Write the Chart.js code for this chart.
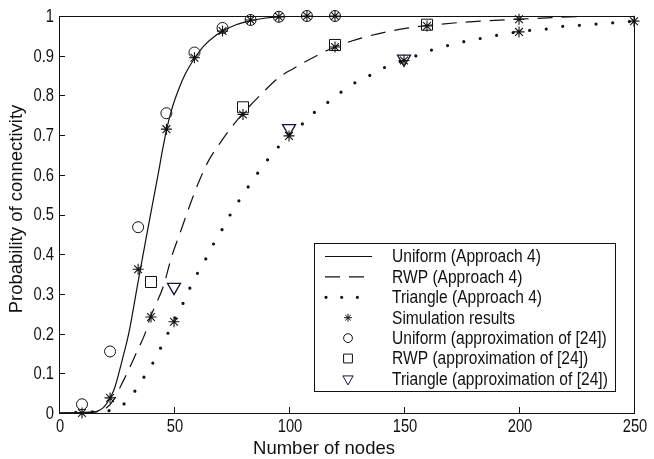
<!DOCTYPE html>
<html>
<head>
<meta charset="utf-8">
<script src="https://cdn.jsdelivr.net/npm/chart.js@4.4.1/dist/chart.umd.min.js"></script>
<style>
  html, body { margin: 0; padding: 0; background: #fff; }
  #wrap { width: 654px; height: 459px; }
</style>
</head>
<body>
<div id="wrap"><canvas id="c"></canvas></div>
<script>
// curvas analíticas (Approach 4)
const uniformX = [0, 15, 18, 20, 22.2, 24, 26, 28, 29.7, 30.9, 33, 35, 38, 41, 43.2, 44.6, 46.7, 49, 52, 55, 58.9, 63, 67, 71.1, 77, 83.3, 90, 95.6, 107.8, 120, 250];
const uniformY = [0, 0.002, 0.008, 0.018, 0.038, 0.06, 0.1, 0.145, 0.184, 0.217, 0.285, 0.35, 0.444, 0.537, 0.604, 0.65, 0.712, 0.765, 0.815, 0.855, 0.893, 0.925, 0.946, 0.962, 0.978, 0.988, 0.995, 0.998, 1, 1, 1];

const rwpX = [0, 15, 20, 24, 27, 30, 33.5, 37.4, 39.6, 41.7, 45.3, 49, 52.6, 57, 61, 65, 70, 75, 80, 87.4, 96, 102, 112, 120, 135, 152, 160, 180, 200, 230, 250];
const rwpY = [0, 0.002, 0.01, 0.035, 0.07, 0.105, 0.15, 0.2, 0.24, 0.268, 0.318, 0.394, 0.453, 0.525, 0.585, 0.635, 0.68, 0.72, 0.755, 0.8, 0.847, 0.868, 0.9, 0.922, 0.95, 0.97, 0.976, 0.986, 0.992, 0.999, 1];

const triX = [0, 8, 22, 28.5, 33, 37, 41, 44.3, 47.3, 50.4, 54, 57, 60.3, 64, 67.3, 71, 74.5, 78.3, 82.3, 86.5, 90.7, 95.5, 100, 105.8, 111, 117, 122.6, 128.4, 135, 141.4, 150, 155, 161.4, 168, 175, 182, 189, 196, 203.5, 210.6, 217.5, 225, 232, 239, 246, 250];
const triY = [0, 0.002, 0.006, 0.024, 0.055, 0.091, 0.128, 0.165, 0.2, 0.237, 0.277, 0.316, 0.353, 0.39, 0.427, 0.463, 0.5, 0.535, 0.57, 0.605, 0.638, 0.671, 0.7, 0.728, 0.757, 0.783, 0.808, 0.831, 0.85, 0.87, 0.888, 0.899, 0.913, 0.924, 0.934, 0.942, 0.95, 0.957, 0.963, 0.966, 0.973, 0.976, 0.979, 0.982, 0.985, 0.987];

// resultados de simulación (asteriscos)
const simUniformX = [10, 22.2, 34.4, 46.7, 58.9, 71.1, 83.3, 95.6, 107.8, 120];
const simUniformY = [0, 0.038, 0.362, 0.715, 0.895, 0.962, 0.99, 0.998, 1, 1];
const simRwpX = [40, 80, 120, 160, 200];
const simRwpY = [0.242, 0.752, 0.922, 0.975, 0.992];
const simTriX = [50, 100, 150, 200, 250];
const simTriY = [0.23, 0.698, 0.888, 0.96, 0.987];

// aproximación de [24]
const apxUniformX = [10, 22.2, 34.4, 46.7, 58.9, 71.1, 83.3, 95.6, 107.8, 120];
const apxUniformY = [0.022, 0.155, 0.468, 0.755, 0.908, 0.97, 0.99, 0.998, 1, 1];
const apxRwpX = [40, 80, 120, 160];
const apxRwpY = [0.33, 0.77, 0.927, 0.978];
const apxTriX = [50, 100, 150];
const apxTriY = [0.317, 0.717, 0.892];

const xTicks = [0, 50, 100, 150, 200, 250];
const yTicks = [0, 0.1, 0.2, 0.3, 0.4, 0.5, 0.6, 0.7, 0.8, 0.9, 1];

const xTitle = 'Number of nodes';
const yTitle = 'Probability of connectivity';
const legendLabels = [
  'Uniform (Approach 4)',
  'RWP (Approach 4)',
  'Triangle (Approach 4)',
  'Simulation results',
  'Uniform (approximation of [24])',
  'RWP (approximation of [24])',
  'Triangle (approximation of [24])'
];

const pts = (xs, ys) => xs.map((x, i) => ({ x: x, y: ys[i] }));
const FONT = '"Liberation Sans", Arial, sans-serif';
const INK = '#111';

// texto estrechado en horizontal, como en la figura original
function narrowText(ctx, text, x, y, sx) {
  ctx.save();
  ctx.translate(x, y);
  ctx.scale(sx, 1);
  ctx.fillText(text, 0, 0);
  ctx.restore();
}

// marco, marcas hacia dentro, etiquetas, títulos y leyenda
const boxPlugin = {
  id: 'boxPlugin',
  afterDraw(chart) {
    const { ctx, chartArea: a, scales } = chart;
    ctx.save();
    ctx.strokeStyle = INK;
    ctx.lineWidth = 1;
    ctx.beginPath();
    xTicks.forEach(v => {
      const px = Math.round(scales.x.getPixelForValue(v)) + 0.5;
      ctx.moveTo(px, a.bottom);
      ctx.lineTo(px, a.bottom - 6);
    });
    yTicks.forEach(v => {
      const py = Math.round(scales.y.getPixelForValue(v)) + 0.5;
      ctx.moveTo(a.left, py);
      ctx.lineTo(a.left + 6, py);
    });
    ctx.stroke();
    ctx.strokeRect(Math.round(a.left) + 0.5, Math.round(a.top) + 0.5, Math.round(a.right - a.left), Math.round(a.bottom - a.top));

    // etiquetas de las marcas
    ctx.fillStyle = INK;
    ctx.font = '18px ' + FONT;
    ctx.textBaseline = 'middle';
    ctx.textAlign = 'center';
    xTicks.forEach(v => narrowText(ctx, String(v), scales.x.getPixelForValue(v) + 1, a.bottom + 14, 0.82));
    ctx.textAlign = 'right';
    yTicks.forEach(v => narrowText(ctx, String(v), a.left - 5, scales.y.getPixelForValue(v) + 1, 0.82));

    // títulos de ejes
    ctx.font = '18.5px ' + FONT;
    ctx.textAlign = 'center';
    ctx.fillText(xTitle, 324, 449);
    ctx.save();
    ctx.translate(17, 209);
    ctx.rotate(-Math.PI / 2);
    ctx.fillText(yTitle, 0, 0);
    ctx.restore();

    // leyenda
    const lx = 314, ly = 243, lw = 301, lh = 148;
    ctx.fillStyle = '#fff';
    ctx.fillRect(lx, ly, lw, lh);
    ctx.strokeRect(lx + 0.5, ly + 0.5, lw, lh);
    ctx.font = '17.5px ' + FONT;
    ctx.textAlign = 'left';
    const rowH = 20.4;
    const sx0 = 325, sx1 = 372, mx = 348;
    legendLabels.forEach((label, i) => {
      const y = ly + 13.5 + i * rowH;
      ctx.fillStyle = INK;
      narrowText(ctx, label, 392, y + 1, 0.89);
      const ds = chart.data.datasets[i];
      ctx.strokeStyle = ds.borderColor;
      if (i < 3) {
        ctx.beginPath();
        ctx.lineWidth = ds.borderWidth;
        ctx.lineCap = ds.borderCapStyle || 'butt';
        ctx.setLineDash(ds.borderDash || []);
        if (i === 2) {
          ctx.setLineDash([0, 15.7]);
          ctx.moveTo(sx0 + 1, y);
        } else {
          ctx.moveTo(sx0, y);
        }
        ctx.lineTo(sx1, y);
        ctx.stroke();
        ctx.setLineDash([]);
        ctx.lineCap = 'butt';
      } else {
        ctx.lineWidth = 1;
        ctx.fillStyle = 'rgba(0,0,0,0)';
        const r = i === 3 ? 4 : ds.pointRadius * 0.8;
        Chart.helpers.drawPoint(ctx, { pointStyle: ds.pointStyle, rotation: ds.pointRotation || 0, radius: r, borderWidth: 1 }, mx, y);
      }
    });
    ctx.restore();
  }
};

const ctx = document.getElementById('c').getContext('2d');
new Chart(ctx, {
  type: 'scatter',
  data: {
    datasets: [
      {
        label: legendLabels[0],
        data: pts(uniformX, uniformY),
        showLine: true, pointRadius: 0,
        borderColor: INK, borderWidth: 1.2,
        cubicInterpolationMode: 'monotone'
      },
      {
        label: legendLabels[1],
        data: pts(rwpX, rwpY),
        showLine: true, pointRadius: 0,
        borderColor: INK, borderWidth: 1.2, borderDash: [15, 9],
        cubicInterpolationMode: 'monotone'
      },
      {
        label: legendLabels[2],
        data: pts(triX, triY),
        showLine: true, pointRadius: 0,
        borderColor: INK, borderWidth: 3.2, borderDash: [0, 16.7], borderCapStyle: 'round',
        cubicInterpolationMode: 'monotone'
      },
      {
        label: legendLabels[3],
        data: pts(simUniformX.concat(simRwpX, simTriX), simUniformY.concat(simRwpY, simTriY)),
        pointStyle: 'star', pointRadius: 5.5, pointBorderWidth: 1.1,
        borderColor: INK, backgroundColor: 'rgba(0,0,0,0)', clip: false
      },
      {
        label: legendLabels[4],
        data: pts(apxUniformX, apxUniformY),
        pointStyle: 'circle', pointRadius: 5.5, pointBorderWidth: 1,
        borderColor: INK, backgroundColor: 'rgba(0,0,0,0)', clip: false
      },
      {
        label: legendLabels[5],
        data: pts(apxRwpX, apxRwpY),
        pointStyle: 'rect', pointRadius: 7.8, pointBorderWidth: 1,
        borderColor: INK, backgroundColor: 'rgba(0,0,0,0)', clip: false
      },
      {
        label: legendLabels[6],
        data: pts(apxTriX, apxTriY),
        pointStyle: 'triangle', pointRotation: 180, pointRadius: 7.5, pointBorderWidth: 1.3,
        borderColor: '#14143c', backgroundColor: 'rgba(0,0,0,0)', clip: false
      }
    ]
  },
  options: {
    responsive: true,
    maintainAspectRatio: false,
    animation: false,
    events: [],
    layout: { padding: { left: 0, right: 20, top: 16, bottom: 0 } },
    plugins: { legend: { display: false }, tooltip: { enabled: false } },
    scales: {
      x: {
        type: 'linear', min: 0, max: 250,
        afterBuildTicks: s => { s.ticks = xTicks.map(v => ({ value: v })); },
        afterFit: s => { s.height = 46; },
        grid: { display: false, drawTicks: false },
        border: { display: true, color: INK },
        ticks: { display: false }
      },
      y: {
        type: 'linear', min: 0, max: 1,
        afterBuildTicks: s => { s.ticks = yTicks.map(v => ({ value: v })); },
        afterFit: s => { s.width = 59; },
        grid: { display: false, drawTicks: false },
        border: { display: true, color: INK },
        ticks: { display: false }
      }
    }
  },
  plugins: [boxPlugin]
});
</script>
</body>
</html>
